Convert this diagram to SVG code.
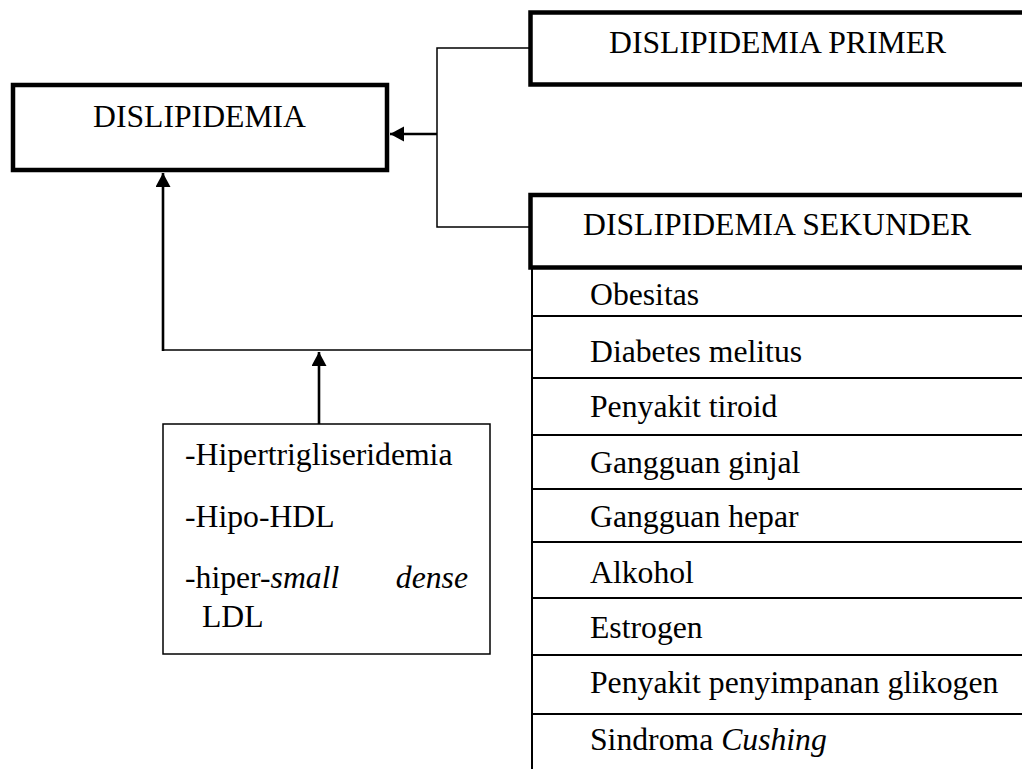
<svg xmlns="http://www.w3.org/2000/svg" width="1022" height="769" viewBox="0 0 1022 769">
<style>
  text { font-family: "Liberation Serif", "Times New Roman", serif; font-size: 31.7px; fill: #000; }
  .thick { fill: #fff; stroke: #000; stroke-width: 4.5; }
  .thin { fill: #fff; stroke: #000; stroke-width: 1.5; }
  .conn { fill: none; stroke: #000; stroke-width: 1.5; }
  .arrow { fill: none; stroke: #000; stroke-width: 2.6; }
  .sep { stroke: #000; stroke-width: 2; }
  .it { font-style: italic; }
</style>
<defs>
  <marker id="ah" markerUnits="userSpaceOnUse" markerWidth="15" markerHeight="16" refX="14" refY="7.5" orient="auto">
    <path d="M0,0 L14,7.5 L0,15 z" fill="#000"/>
  </marker>
</defs>
<rect width="1022" height="769" fill="#fff"/>

<g id="connectors">
  <path class="conn" d="M530,48 H437 V227 H530"/>
  <line class="arrow" x1="437" y1="134" x2="390" y2="134" marker-end="url(#ah)"/>
  <path class="conn" d="M532,350 H163"/>
  <line class="arrow" x1="163" y1="351" x2="163" y2="173" marker-end="url(#ah)"/>
  <line class="arrow" x1="319" y1="424" x2="319" y2="352" marker-end="url(#ah)"/>
</g>

<g id="dislipidemia">
  <rect class="thick" x="13" y="85" width="374" height="85"/>
  <text x="93" y="127">DISLIPIDEMIA</text>
</g>

<g id="primer">
  <rect class="thick" x="530.5" y="12.5" width="600" height="72"/>
  <text x="609" y="53">DISLIPIDEMIA PRIMER</text>
</g>

<g id="sekunder">
  <rect class="thick" x="530.5" y="195" width="600" height="72.5"/>
  <text x="583" y="235">DISLIPIDEMIA SEKUNDER</text>
</g>

<g id="sekunder-list">
  <line class="sep" x1="532" y1="267" x2="532" y2="769"/>
  <line class="sep" x1="531" y1="316" x2="1022" y2="316"/>
  <line class="sep" x1="531" y1="378" x2="1022" y2="378"/>
  <line class="sep" x1="531" y1="435" x2="1022" y2="435"/>
  <line class="sep" x1="531" y1="489" x2="1022" y2="489"/>
  <line class="sep" x1="531" y1="542" x2="1022" y2="542"/>
  <line class="sep" x1="531" y1="598" x2="1022" y2="598"/>
  <line class="sep" x1="531" y1="655" x2="1022" y2="655"/>
  <line class="sep" x1="531" y1="714" x2="1022" y2="714"/>
  <text x="590" y="305">Obesitas</text>
  <text x="590" y="362">Diabetes melitus</text>
  <text x="590" y="417">Penyakit tiroid</text>
  <text x="590" y="473">Gangguan ginjal</text>
  <text x="590" y="527">Gangguan hepar</text>
  <text x="590" y="583">Alkohol</text>
  <text x="590" y="638">Estrogen</text>
  <text x="590" y="693">Penyakit penyimpanan glikogen</text>
  <text x="590" y="750">Sindroma <tspan class="it">Cushing</tspan></text>
</g>

<g id="lipid-profile">
  <rect class="thin" x="163" y="424" width="327" height="230"/>
  <text x="185" y="465">-Hipertrigliseridemia</text>
  <text x="185" y="527">-Hipo-HDL</text>
  <text x="185" y="588">-hiper-<tspan class="it">small</tspan></text>
  <text x="468" y="588" text-anchor="end" class="it">dense</text>
  <text x="202" y="627">LDL</text>
</g>
</svg>
